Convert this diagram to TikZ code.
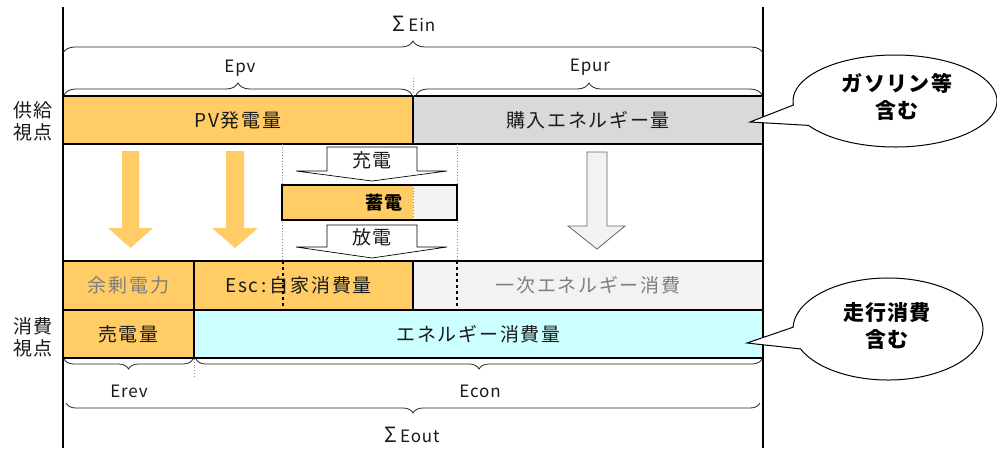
\documentclass[tikz,border=0pt]{standalone}
\usepackage{fontspec}
\newfontfamily\jp[LetterSpace=9]{Noto Sans CJK JP}
\newfontfamily\jpl[LetterSpace=5]{Noto Sans CJK JP}
\newfontfamily\jpb[LetterSpace=6]{Noto Sans CJK JP}
\newcommand{\sigmabig}{{\fontsize{21}{20}\selectfont Σ}\hspace{3pt}}
\usetikzlibrary{decorations.pathreplacing,calc}
\definecolor{orng}{HTML}{FFCC66}
\definecolor{grD}{HTML}{D9D9D9}
\definecolor{grL}{HTML}{F2F2F2}
\definecolor{cyn}{HTML}{CCFFFF}
\definecolor{txg}{HTML}{7F7F7F}
\definecolor{txk}{HTML}{1A1A1A}
\begin{document}
\begin{tikzpicture}[x=1pt,y=-1pt,
  cell/.style={draw=black, line width=1.3pt, inner sep=0pt, outer sep=0pt,
    font=\jp\fontsize{19}{22}\selectfont, text=txk},
  side/.style={font=\jp\fontsize{19}{22}\selectfont, align=center, inner sep=0pt, text=txk},
  latin/.style={font=\jpl\fontsize{17}{20}\selectfont, inner sep=0pt, text=txk},
  brc/.style={decorate, decoration={brace, amplitude=12pt}, line width=0.8pt, draw=black!85},
  brcs/.style={decorate, decoration={brace, amplitude=10pt}, line width=0.8pt, draw=black!85},
  guide/.style={draw=black!45, dotted, line width=0.8pt},
  farrow/.style={fill=orng, draw=none},
  warrow/.style={fill=white, draw=black, line width=0.7pt},
  garrow/.style={fill=grL, draw=black!60, line width=0.8pt},
  bubble/.style={fill=white, draw=black, line width=1pt},
  btext/.style={font=\jpb\fontsize{21}{27}\selectfont\bfseries, align=center, inner sep=0pt}
]
\useasboundingbox[fill=white] (0,0) rectangle (997,448);

% middle white region
\node[draw=black!85, line width=1.5pt, minimum width=700, minimum height=117, inner sep=0pt] (mid) at (413,202.5) {};

% top row
\node[cell, fill=orng, minimum width=350, minimum height=48] (pv) at (238,120) {\raisebox{-2pt}{PV発電量}};
\node[cell, fill=grD, minimum width=350, minimum height=48] (pur) at (588,120) {\raisebox{-2pt}{購入エネルギー量}};

% row 2
\node[cell, fill=orng, minimum width=131, minimum height=49, text=txg] (yojo) at (128.5,285.5) {\raisebox{-1pt}{余剰電力}};
\node[cell, fill=orng, minimum width=219, minimum height=49] (esc) at (303.5,285.5) {\hspace*{-10pt}\raisebox{-1pt}{Esc\,:\,自家消費量}};
\node[cell, fill=grL, minimum width=350, minimum height=49, text=txg] (ichiji) at (588,285.5) {\raisebox{-1pt}{一次エネルギー消費}};
\draw[dashed, line width=1.2pt] (283,261) -- (283,310);
\draw[dashed, line width=1.2pt] (457,261) -- (457,310);

% row 3
\node[cell, fill=orng, minimum width=131, minimum height=48] (baiden) at (128.5,334) {売電量};
\node[cell, fill=cyn, minimum width=569, minimum height=48] (econs) at (478.5,334) {エネルギー消費量};

% main vertical lines
\draw[line width=1.8pt] (63,7) -- (63,448);
\draw[line width=1.8pt] (763,7) -- (763,448);

% guides
\draw[guide] (282,144) -- (282,261);
\draw[guide] (457,144) -- (457,261);
\draw[guide] (413,78) -- (413,95);
\draw[guide] (194,359) -- (194,376);

% storage
\fill[orng] (282,185) rectangle (413,220);
\fill[grL] (413,185) rectangle (457,220);
\draw[guide] (413,185) -- (413,220);
\node[draw=black, line width=1.5pt, minimum width=175, minimum height=35, inner sep=0pt] (stor) at (369.5,202.5) {};
\node[font=\jpb\fontsize{18}{20}\selectfont\bfseries, inner sep=0pt] (chikuden) at (384,203) {蓄電};

% orange arrows
\draw[farrow] (122,151) -- (139,151) -- (139,228) -- (153,228) -- (130.5,248) -- (108,228) -- (122,228) -- cycle;
\draw[farrow] (226,151) -- (244,151) -- (244,228) -- (258,228) -- (235,248) -- (212,228) -- (226,228) -- cycle;

% gray arrow
\draw[garrow] (587,152) -- (607,152) -- (607,226) -- (625,226) -- (597,249) -- (568,226) -- (587,226) -- cycle;

% charge / discharge arrows
\draw[warrow] (327,147) -- (417,147) -- (417,171) -- (447,171) -- (372,181) -- (296,171) -- (327,171) -- cycle;
\node[side] (juden) at (372,160) {充電};
\draw[warrow] (327,225) -- (417,225) -- (417,247) -- (447,247) -- (372,258) -- (296,247) -- (327,247) -- cycle;
\node[side] (houden) at (372,237) {放電};

% side labels
\node[side] (kyokyu) at (33,121) {供給\\視点};
\node[side] (shohi) at (33,337) {消費\\視点};

% braces top
\draw[brc] (63,53) -- (763,53);
\node[latin] (ein) at (414,24) {\sigmabig Ein};
\draw[brc] (64,95) -- (412,95);
\node[latin] (epv) at (240,68) {Epv};
\draw[brc] (416,95) -- (762,95);
\node[latin] (epur) at (590,67) {Epur};

% braces bottom
\draw[brcs] (193,359) -- (64,359);
\node[latin] (erev) at (129,391) {Erev};
\draw[brcs] (762,359) -- (196,359);
\node[latin] (econ) at (480,391) {Econ};
\draw[brcs] (760,403) -- (66,403);
\node[latin] (eout) at (412,435) {\sigmabig Eout};

% callouts
\coordinate (c1) at (895,101);
\coordinate (t1) at (750,122);
\draw[bubble] (t1) -- ($(c1)+(148:102 and 46)$) arc[start angle=148, end angle=-185, x radius=102, y radius=46] -- cycle;
\node[btext] (gas) at (897,97) {ガソリン等\\含む};

\coordinate (c2) at (888,329);
\coordinate (t2) at (747,343);
\draw[bubble] (t2) -- ($(c2)+(157:95 and 51)$) arc[start angle=157, end angle=-178, x radius=95, y radius=51] -- cycle;
\node[btext] (soko) at (887,326) {走行消費\\含む};
\end{tikzpicture}
\end{document}
